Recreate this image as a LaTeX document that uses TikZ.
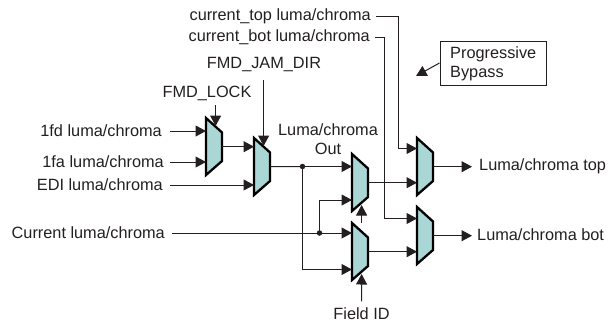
\documentclass[tikz,border=0pt]{standalone}
\usepackage{fontspec}
\setmainfont{Liberation Sans}
\usetikzlibrary{arrows.meta}
\definecolor{muxfill}{RGB}{170,214,214}
\definecolor{ink}{RGB}{35,31,32}
\tikzset{
  x=1pt,y=-1pt,
  lab/.style={inner sep=0pt,font=\fontsize{16.3}{18.5}\selectfont,text=ink},
  wire/.style={draw=ink,line width=1pt},
  arr/.style={wire,-{Triangle[length=10.5pt,width=11pt]}},
  muxbody/.style={draw=black,line width=2.3pt,fill=muxfill,line join=miter},
  muxbox/.style={inner sep=0pt,minimum width=16pt,minimum height=57pt,anchor=north west},
  dot/.style={circle,fill=ink,inner sep=0pt,minimum size=5.5pt},
}
% name, left x, top y: a named node holding the trapezoid, and its control-input x
\newcommand{\muxat}[3]{%
  \node[muxbox] (#1) at (#2,#3) {};
  \draw[muxbody] (#2,#3) -- (#2+16,#3+14.5) -- (#2+16,#3+43) -- (#2,#3+57) -- cycle;
  \coordinate (#1c) at (#2+9.6,#3);
}
\begin{document}
\begin{tikzpicture}
\useasboundingbox (0,0) rectangle (608,322);
% labels
\node[lab,anchor=east] (fd) at (162,131) {1fd luma/chroma};
\node[lab,anchor=east] (fa) at (164,162) {1fa luma/chroma};
\node[lab,anchor=east] (edi) at (163,185) {EDI luma/chroma};
\node[lab,anchor=east] (cur) at (165,233) {Current luma/chroma};
\node[lab,anchor=east] (ctop) at (371,16) {current\_top luma/chroma};
\node[lab,anchor=east] (cbot) at (370,37) {current\_bot luma/chroma};
\node[lab] (lock) at (207,93) {FMD\_LOCK};
\node[lab] (jam) at (264,65) {FMD\_JAM\_DIR};
\node[lab,align=center] (lco) at (328,139) {Luma/chroma\\Out};
\node[lab,anchor=west] (ltop) at (479,166.5) {Luma/chroma top};
\node[lab,anchor=west] (lbot) at (477,235) {Luma/chroma bot};
\node[lab] (fid) at (361.5,313.5) {Field ID};
\node[draw=ink,line width=1pt,minimum width=106pt,minimum height=44pt,anchor=north west,inner sep=0pt] (pb) at (439.5,40.5) {};
\node[lab,anchor=west,align=left] (pbt) at (450,64) {Progressive\\Bypass};
\coordinate (pba) at (416,76);
\coordinate (pbs) at (439.5,63);
% muxes
\muxat{ma}{206}{118}
\muxat{mb}{254}{138}
\muxat{mc}{352}{154}
\muxat{md}{352}{223}
\muxat{me}{417}{138}
\muxat{mf}{417}{207}
\coordinate (j1) at (302.5,166.5);
\coordinate (j2) at (319.5,233);
\coordinate (k1) at (302.5,269.5);
\coordinate (k2) at (319.5,200);
\coordinate (t1) at (398.5,148.5);
\coordinate (t2) at (384,218.5);
% connectors
\draw[arr] ([xshift=8pt]fd.east) -- (ma.west |- fd);
\draw[arr] ([xshift=6pt]fa.east) -- (ma.west |- fa);
\draw[arr] ([xshift=7pt]edi.east) -- (mb.west |- edi);
\draw[arr] (ma.east) -- (mb.west |- ma.east);
\draw[arr] (mac |- 0,105) -- ([yshift=-8pt]mac);
\draw[arr] (mbc |- 0,80) -- ([yshift=-8pt]mbc);
\draw[wire] (mb.east) -- (j1);
\draw[arr] (j1) -- (mc.west |- j1);
\draw[arr] (j1) -- (k1) -- (md.west |- k1);
\draw[wire] ([xshift=7pt]cur.east) -- (j2);
\draw[arr] (j2) -- (md.west |- j2);
\draw[arr] (j2) -- (k2) -- (mc.west |- k2);
\draw[arr] (mc.east) -- (me.west |- mc.east);
\draw[arr] (md.east) -- (mf.west |- md.east);
\draw[arr] (mdc) -- (mdc |- 0,205);
\draw[arr] ([yshift=6pt]fid.north) -- (mdc |- 0,274);
\draw[arr] ([xshift=5pt]ctop.east) -- (t1 |- ctop) -- (t1) -- (me.west |- t1);
\draw[arr] ([xshift=5pt]cbot.east) -- (t2 |- cbot) -- (t2) -- (mf.west |- t2);
\draw[arr] (me.east) -- ([xshift=-7pt]ltop.west |- me.east);
\draw[arr] (mf.east) -- ([xshift=-5pt]lbot.west |- mf.east);
\draw[arr] (pbs) -- (pba);
\node[dot] at (j1) {};
\node[dot] at (j2) {};
\end{tikzpicture}
\end{document}
